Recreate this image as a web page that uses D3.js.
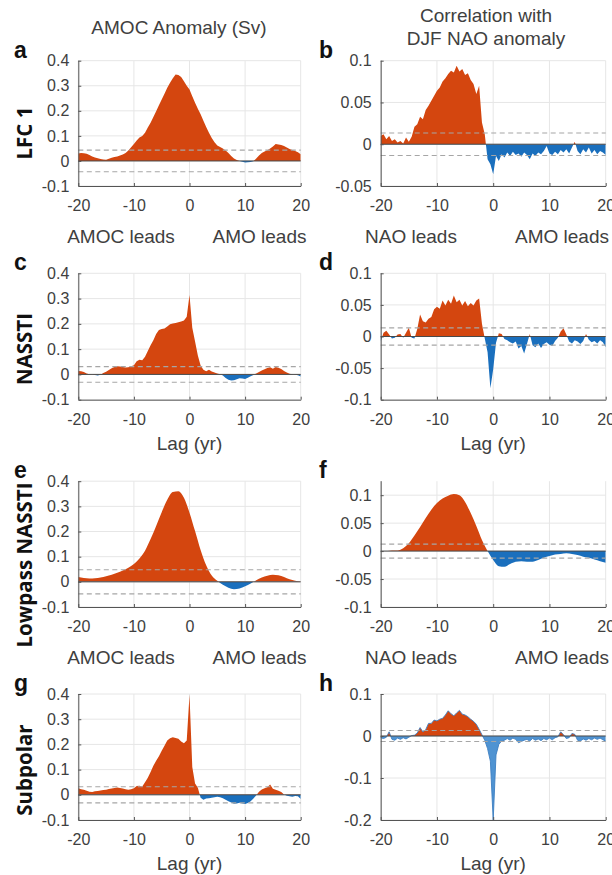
<!DOCTYPE html>
<html>
<head>
<meta charset="utf-8">
<script src="https://cdn.jsdelivr.net/npm/d3@7"></script>
<style>
body { margin: 0; background: #fff; }
svg text { font-family: "Liberation Sans", Arial, Helvetica, sans-serif; fill: #404040; }
</style>
</head>
<body>
<script>
// lags (yr), half-year grid for the raw series, yearly grid for the lowpass ones
const lagsHalf = [-20,-19.5,-19,-18.5,-18,-17.5,-17,-16.5,-16,-15.5,-15,-14.5,-14,-13.5,-13,-12.5,-12,-11.5,-11,-10.5,
  -10,-9.5,-9,-8.5,-8,-7.5,-7,-6.5,-6,-5.5,-5,-4.5,-4,-3.5,-3,-2.5,-2,-1.5,-1,-0.5,
  0,0.5,1,1.5,2,2.5,3,3.5,4,4.5,5,5.5,6,6.5,7,7.5,8,8.5,9,9.5,
  10,10.5,11,11.5,12,12.5,13,13.5,14,14.5,15,15.5,16,16.5,17,17.5,18,18.5,19,19.5,20];
const lagsYear = [-20,-19,-18,-17,-16,-15,-14,-13,-12,-11,-10,-9,-8,-7,-6,-5,-4,-3,-2,-1,
  0,1,2,3,4,5,6,7,8,9,10,11,12,13,14,15,16,17,18,19,20];

// a: AMOC anomaly, LFC 1
const amocLfc = [0.030,0.032,0.031,0.029,0.024,0.018,0.014,0.011,0.008,0.006,
  0.005,0.009,0.013,0.016,0.018,0.022,0.026,0.032,0.042,0.055,
  0.068,0.082,0.094,0.100,0.112,0.133,0.152,0.175,0.198,0.222,
  0.245,0.268,0.292,0.312,0.330,0.345,0.343,0.335,0.318,0.300,
  0.285,0.258,0.232,0.208,0.186,0.160,0.135,0.112,0.092,0.075,
  0.062,0.056,0.050,0.042,0.032,0.020,0.010,0.004,0.000,-0.003,
  -0.006,-0.005,-0.004,-0.001,0.010,0.022,0.032,0.038,0.043,0.050,
  0.058,0.068,0.066,0.064,0.060,0.054,0.048,0.044,0.040,0.035,
  0.027];
// b: correlation with DJF NAO, LFC 1
const naoLfc = [0.010,0.012,0.006,0.010,0.004,0.006,0.002,0.004,0.001,0.008,
  0.003,0.009,0.021,0.024,0.033,0.030,0.041,0.046,0.052,0.058,
  0.064,0.068,0.075,0.079,0.084,0.088,0.086,0.094,0.087,0.090,
  0.083,0.085,0.077,0.072,0.060,0.070,0.026,0.012,-0.018,-0.024,
  -0.036,-0.014,-0.020,-0.012,-0.016,-0.010,-0.014,-0.009,-0.013,-0.011,
  -0.015,-0.010,-0.013,-0.018,-0.011,-0.014,-0.010,-0.012,-0.008,-0.002,
  -0.011,-0.013,-0.009,-0.012,-0.007,-0.010,-0.006,-0.011,-0.004,0.003,
  -0.008,-0.012,-0.006,-0.010,-0.004,-0.011,-0.007,-0.012,-0.008,-0.010,
  -0.013];
// c: AMOC anomaly, NASSTI
const amocNassti = [0.014,0.013,0.010,0.004,0.001,0.000,-0.002,-0.004,-0.001,0.006,
  0.011,0.017,0.024,0.029,0.032,0.031,0.029,0.027,0.028,0.032,
  0.036,0.052,0.058,0.056,0.070,0.093,0.115,0.135,0.160,0.176,
  0.180,0.182,0.190,0.198,0.201,0.203,0.206,0.209,0.213,0.228,
  0.314,0.185,0.130,0.075,0.035,0.018,0.013,0.018,0.012,0.008,
  0.004,0.001,-0.004,-0.014,-0.021,-0.024,-0.023,-0.019,-0.015,-0.016,
  -0.018,-0.013,-0.007,-0.002,0.004,0.010,0.016,0.020,0.025,0.028,
  0.022,0.029,0.026,0.021,0.014,0.008,0.003,0.001,-0.001,-0.003,
  -0.008];
// d: correlation with DJF NAO, NASSTI
const naoNassti = [-0.008,0.006,0.009,0.003,-0.003,-0.002,0.003,0.004,-0.002,0.006,
  0.014,-0.002,-0.003,0.012,0.035,0.024,0.022,0.028,0.031,0.043,
  0.047,0.044,0.057,0.049,0.058,0.052,0.065,0.054,0.058,0.049,
  0.056,0.048,0.053,0.049,0.057,0.060,0.020,-0.003,-0.025,-0.082,
  -0.052,-0.010,0.005,0.004,-0.004,-0.006,-0.009,-0.011,-0.008,-0.019,
  -0.015,-0.027,-0.012,0.004,-0.014,-0.017,-0.011,-0.018,-0.012,-0.009,
  -0.013,-0.015,-0.007,-0.002,0.008,0.013,0.003,-0.008,-0.011,-0.006,
  -0.008,-0.012,-0.007,0.004,-0.005,-0.009,-0.007,-0.011,-0.006,-0.009,
  -0.017];
// e: AMOC anomaly, lowpass NASSTI (yearly)
const amocLowpass = [0.019,0.015,0.013,0.014,0.017,0.022,0.028,0.036,0.045,0.056,
  0.071,0.093,0.124,0.170,0.222,0.277,0.326,0.357,0.360,0.334,
  0.275,0.202,0.127,0.066,0.025,0.004,-0.012,-0.023,-0.029,-0.026,
  -0.018,-0.007,0.006,0.017,0.024,0.028,0.026,0.019,0.010,0.004,
  0.001];
// f: correlation with DJF NAO, lowpass NASSTI (yearly)
const naoLowpass = [0.000,0.000,0.001,0.001,0.005,0.014,0.028,0.043,0.059,0.074,
  0.086,0.094,0.099,0.102,0.100,0.088,0.068,0.045,0.020,0.000,
  -0.016,-0.027,-0.028,-0.023,-0.019,-0.018,-0.019,-0.019,-0.016,-0.012,
  -0.009,-0.006,-0.005,-0.004,-0.005,-0.007,-0.010,-0.012,-0.015,-0.018,
  -0.021];
// g: AMOC anomaly, subpolar
const amocSubpolar = [0.026,0.022,0.020,0.016,0.012,0.011,0.014,0.015,0.017,0.019,
  0.020,0.023,0.025,0.027,0.029,0.027,0.025,0.022,0.020,0.022,
  0.026,0.035,0.036,0.033,0.050,0.068,0.090,0.115,0.135,0.153,
  0.175,0.195,0.215,0.224,0.228,0.225,0.222,0.212,0.205,0.215,
  0.396,0.110,0.045,0.028,-0.012,-0.020,-0.015,-0.014,-0.012,-0.010,
  -0.008,-0.010,-0.014,-0.020,-0.026,-0.031,-0.036,-0.035,-0.032,-0.035,
  -0.037,-0.033,-0.026,-0.015,-0.002,0.012,0.021,0.026,0.030,0.041,
  0.024,0.020,0.016,0.011,0.001,-0.004,-0.006,-0.008,-0.005,-0.006,
  -0.017];
// h: correlation with DJF NAO, subpolar
const naoSubpolar = [-0.004,-0.006,-0.003,0.010,-0.008,-0.010,-0.005,-0.008,-0.004,-0.007,
  -0.003,0.001,0.002,0.007,0.020,0.010,0.015,0.030,0.030,0.038,
  0.036,0.040,0.042,0.050,0.060,0.053,0.048,0.055,0.061,0.052,
  0.050,0.046,0.040,0.035,0.028,0.016,0.003,-0.010,-0.030,-0.060,
  -0.200,-0.045,-0.020,-0.012,-0.010,-0.006,-0.010,-0.005,-0.008,-0.016,
  -0.013,-0.010,-0.008,-0.012,-0.006,-0.010,-0.007,-0.011,-0.006,-0.009,
  -0.005,-0.009,-0.004,-0.002,0.010,0.003,-0.006,-0.004,0.006,0.004,
  -0.010,-0.012,-0.007,-0.010,-0.006,-0.009,-0.005,-0.008,-0.005,-0.009,
  -0.012];

// significance levels (dashed lines), one per row
const sigAmoc = [0.043, 0.031, 0.048, 0.032];
const sigNao = [0.0135, 0.0137, 0.0125, 0.013];

const rowNames = ["LFC 1", "NASSTI", "Lowpass NASSTI", "Subpolar"];
const lagTicks = [-20, -10, 0, 10, 20];
const amocTicks = [-0.1, 0, 0.1, 0.2, 0.3, 0.4];
const naoTicks = [[-0.05, 0, 0.05, 0.1], [-0.1, -0.05, 0, 0.05, 0.1], [-0.1, -0.05, 0, 0.05, 0.1], [-0.2, -0.1, 0, 0.1]];
const naoDomains = [[-0.05, 0.1], [-0.1, 0.1], [-0.1, 0.125], [-0.2, 0.1]];

const red = "#d4460f", blue = "#1a6fbd";

const svg = d3.select("body").append("svg").attr("width", 612).attr("height", 875);
const defs = svg.append("defs");

const cols = [{x0: 78.3, x1: 300.7, letterX: 14}, {x0: 380.7, x1: 605.7, letterX: 319}];
const rows = [
  {top: 60.7, bottom: 186, labelY: 133},
  {top: 273.3, bottom: 399.7, labelY: 349},
  {top: 481.2, bottom: 607, labelY: 565},
  {top: 694, bottom: 820, labelY: 770}
];

function panel(p) {
  const x = d3.scaleLinear().domain([-20, 20]).range([p.x0, p.x1]);
  const y = d3.scaleLinear().domain(p.domain).range([p.bottom, p.top]);
  const g = svg.append("g");

  // grid
  g.selectAll(".gx").data(lagTicks).join("line")
    .attr("x1", d => x(d)).attr("x2", d => x(d))
    .attr("y1", p.top).attr("y2", p.bottom)
    .attr("stroke", "#e6e6e6");
  g.selectAll(".gy").data(p.ticks).join("line")
    .attr("x1", p.x0).attr("x2", p.x1)
    .attr("y1", d => y(d)).attr("y2", d => y(d))
    .attr("stroke", "#e6e6e6");

  // clip above / below zero
  const y0 = y(0);
  defs.append("clipPath").attr("id", p.id + "pos").append("rect")
    .attr("x", p.x0).attr("width", p.x1 - p.x0)
    .attr("y", p.top - 5).attr("height", y0 - p.top + 5);
  defs.append("clipPath").attr("id", p.id + "neg").append("rect")
    .attr("x", p.x0).attr("width", p.x1 - p.x0)
    .attr("y", y0).attr("height", p.bottom - y0);

  const data = d3.zip(p.lags, p.values);
  const curve = p.smooth ? d3.curveMonotoneX : d3.curveLinear;
  const area = d3.area().x(d => x(d[0])).y0(y0).y1(d => y(d[1])).curve(curve);

  g.append("path").datum(data).attr("d", area)
    .attr("fill", red).attr("clip-path", `url(#${p.id}pos)`);
  g.append("path").datum(data).attr("d", area)
    .attr("fill", p.negColor || blue).attr("clip-path", `url(#${p.id}neg)`);

  if (p.outline) {
    g.append("path").datum(data)
      .attr("d", d3.line().x(d => x(d[0])).y(d => y(d[1])).curve(curve))
      .attr("fill", "none").attr("stroke", p.outline).attr("stroke-width", 0.9);
  }

  // significance
  g.selectAll(".sig").data([p.sig, -p.sig]).join("line")
    .attr("x1", p.x0).attr("x2", p.x1)
    .attr("y1", d => y(d)).attr("y2", d => y(d))
    .attr("stroke", "#a6a6a6").attr("stroke-width", 1.1)
    .attr("stroke-dasharray", "5,3.5");

  // zero line
  g.append("line").attr("x1", p.x0).attr("x2", p.x1)
    .attr("y1", y0).attr("y2", y0)
    .attr("stroke", "#4a4a4a").attr("stroke-width", 1);

  // axes
  const xa = g.append("g").attr("transform", `translate(0,${p.bottom})`)
    .call(d3.axisBottom(x).tickValues(lagTicks).tickSizeInner(-3).tickSizeOuter(0)
      .tickPadding(14).tickFormat(d => String(d)));
  const ya = g.append("g").attr("transform", `translate(${p.x0},0)`)
    .call(d3.axisLeft(y).tickValues(p.ticks).tickSizeInner(-3).tickSizeOuter(0)
      .tickPadding(9).tickFormat(d => String(d)));
  [xa, ya].forEach(a => a.attr("font-size", 16).attr("font-family", null).attr("color", "#555"));
  // y axis line reaches top of the box
  ya.select(".domain").attr("d", `M0.5,${p.bottom}V${p.top}`);

  // panel letter
  svg.append("text").attr("x", p.letterX).attr("y", p.top - 3)
    .attr("font-size", 23).attr("font-weight", "bold")
    .style("fill", "#111").text(p.letter);
  return {x, y};
}

const amocSeries = [amocLfc, amocNassti, amocLowpass, amocSubpolar];
const naoSeries = [naoLfc, naoNassti, naoLowpass, naoSubpolar];
const letters = [["a", "b"], ["c", "d"], ["e", "f"], ["g", "h"]];

rows.forEach((r, i) => {
  const smooth = i === 2;
  const lags = smooth ? lagsYear : lagsHalf;
  panel({id: "p" + letters[i][0], letter: letters[i][0], letterX: cols[0].letterX,
    x0: cols[0].x0, x1: cols[0].x1, top: r.top, bottom: r.bottom,
    domain: [-0.1, 0.4], ticks: amocTicks, lags, values: amocSeries[i],
    sig: sigAmoc[i], smooth});
  panel({id: "p" + letters[i][1], letter: letters[i][1], letterX: cols[1].letterX,
    x0: cols[1].x0, x1: cols[1].x1, top: r.top, bottom: r.bottom,
    domain: naoDomains[i], ticks: naoTicks[i], lags, values: naoSeries[i],
    sig: sigNao[i], smooth,
    negColor: i === 3 ? "#4f93d2" : null, outline: i === 3 ? "#3d7fc2" : null});

  // row label
  svg.append("text")
    .attr("transform", `translate(32,${r.labelY}) rotate(-90)`)
    .attr("text-anchor", "middle")
    .style("font-family", "'Open Sans', 'Noto Sans', sans-serif")
    .style("font-weight", "bold").style("fill", "#111")
    .attr("font-size", 20.5).text(rowNames[i]);

  // labels below the axes
  if (i % 2 === 0) {
    const yb = r.bottom + 57;
    [["AMOC leads", 121], ["AMO leads", 259.5], ["NAO leads", 411], ["AMO leads", 562]].forEach(([t, cx]) => {
      svg.append("text").attr("x", cx).attr("y", yb).attr("text-anchor", "middle")
        .attr("font-size", 19).text(t);
    });
  } else {
    cols.forEach(c => {
      svg.append("text").attr("x", (c.x0 + c.x1) / 2).attr("y", r.bottom + 50)
        .attr("text-anchor", "middle").attr("font-size", 19).text("Lag (yr)");
    });
  }
});

// column titles
svg.append("text").attr("x", 179).attr("y", 34).attr("text-anchor", "middle")
  .attr("font-size", 19).text("AMOC Anomaly (Sv)");
svg.append("text").attr("x", 486).attr("y", 22).attr("text-anchor", "middle")
  .attr("font-size", 19).text("Correlation with");
svg.append("text").attr("x", 486).attr("y", 45).attr("text-anchor", "middle")
  .attr("font-size", 19).text("DJF NAO anomaly");
</script>
</body>
</html>
